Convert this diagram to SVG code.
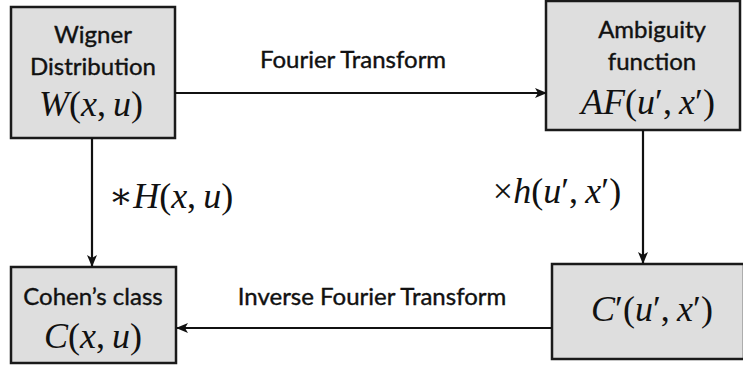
<svg xmlns="http://www.w3.org/2000/svg" width="743" height="369" viewBox="0 0 743 369">
<defs>
<marker id="ah" markerWidth="12" markerHeight="10" refX="11" refY="5" orient="auto" markerUnits="userSpaceOnUse">
<path d="M0,0 L12,5 L0,10 L3,5 Z" fill="#111"/>
</marker>
</defs>
<style>
.box{fill:#dedede;stroke:#1a1a1a;stroke-width:2.5}
.lbl{font-family:Lato,"Open Sans","Liberation Sans",sans-serif;font-size:24px;fill:#111;stroke:#111;stroke-width:0.4;text-anchor:middle}
.math{font-family:"Liberation Serif","DejaVu Serif",serif;font-style:italic;font-size:36px;fill:#111;text-anchor:middle}
.up{font-style:normal}
.conn{stroke:#111;stroke-width:2.2;fill:none;marker-end:url(#ah)}
</style>
<rect width="743" height="369" fill="#fff"/>
<g id="wigner">
<rect class="box" x="11" y="7" width="164" height="131"/>
<text class="lbl" x="93" y="43">Wigner</text>
<text class="lbl" x="93" y="75">Distribution</text>
<text class="math" x="91" y="116">W<tspan class="up">(</tspan>x<tspan class="up">,&#8201;</tspan>u<tspan class="up">)</tspan></text>
</g>
<g id="ambiguity">
<rect class="box" x="546" y="1" width="194" height="129"/>
<text class="lbl" x="652" y="38">Ambiguity</text>
<text class="lbl" x="652" y="70">function</text>
<text class="math" x="648" y="114">AF<tspan class="up">(</tspan>u<tspan class="up">′,&#8201;</tspan>x<tspan class="up">′)</tspan></text>
</g>
<g id="cohen">
<rect class="box" x="11" y="267" width="165" height="96"/>
<text class="lbl" x="93" y="305">Cohen’s class</text>
<text class="math" x="93" y="348">C<tspan class="up">(</tspan>x<tspan class="up">,&#8201;</tspan>u<tspan class="up">)</tspan></text>
</g>
<g id="cprime">
<rect class="box" x="552" y="264" width="192" height="95"/>
<text class="math" x="652" y="321">C<tspan class="up">′(</tspan>u<tspan class="up">′,&#8201;</tspan>x<tspan class="up">′)</tspan></text>
</g>
<g id="connectors">
<line class="conn" x1="175" y1="93" x2="546" y2="93"/>
<line class="conn" x1="643" y1="130" x2="643" y2="263"/>
<line class="conn" x1="552" y1="328" x2="177" y2="328"/>
<line class="conn" x1="92" y1="138" x2="92" y2="266"/>
<text class="lbl" x="353" y="68">Fourier Transform</text>
<text class="lbl" x="372" y="305">Inverse Fourier Transform</text>
<text class="math" x="171" y="208"><tspan class="up">∗</tspan>H<tspan class="up">(</tspan>x<tspan class="up">,&#8201;</tspan>u<tspan class="up">)</tspan></text>
<text class="math" x="557" y="203"><tspan class="up">×</tspan>h<tspan class="up">(</tspan>u<tspan class="up">′,&#8201;</tspan>x<tspan class="up">′)</tspan></text>
</g>
</svg>
